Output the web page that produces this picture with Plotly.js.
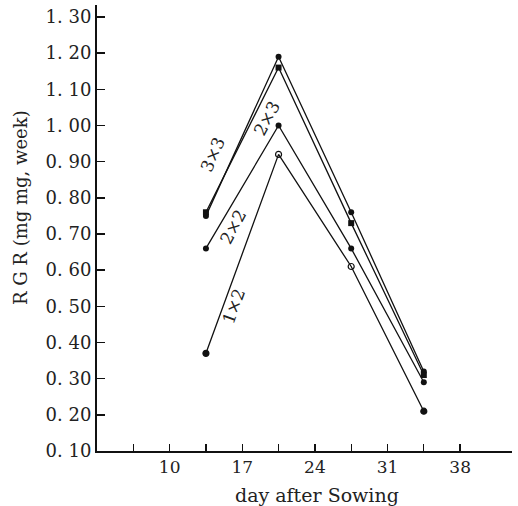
<!DOCTYPE html>
<html>
<head>
<meta charset="utf-8">
<script src="https://cdn.plot.ly/plotly-3.0.1.min.js"></script>
<style>html,body{margin:0;padding:0;background:#fff;}#chart{width:518px;height:506px;}</style>
</head>
<body>
<div id="chart"></div>
<script>
const days = [13.5, 20.5, 27.5, 34.5];
const rgr3x3 = [0.75, 1.19, 0.76, 0.32];
const rgr2x3 = [0.76, 1.16, 0.73, 0.31];
const rgr2x2 = [0.66, 1.00, 0.66, 0.29];
const rgr1x2 = [0.37, 0.92, 0.61, 0.21];
const seriesNames = ["3×3", "2×3", "2×2", "1×2"];
const labelX = [14.2, 19.4, 16.1, 16.2];
const labelY = [0.92, 1.02, 0.72, 0.50];

const yTickVals = [0.10,0.20,0.30,0.40,0.50,0.60,0.70,0.80,0.90,1.00,1.10,1.20,1.30];
const yTickText = ["0. 10","0. 20","0. 30","0. 40","0. 50","0. 60","0. 70","0. 80","0. 90","1. 00","1. 10","1. 20","1. 30"];
const xTickVals = [6.5,10,13.5,17,20.5,24,27.5,31,34.5,38];
const xTickText = ["","10","","17","","24","","31","","38"];
const xTitle = "day after Sowing";
const yTitle = "R G R (mg mg, week)";

const font = "DejaVu Serif, Liberation Serif, serif";
const line = {color:"#111", width:1.3};
const traces = [
  {x:days, y:rgr3x3, name:seriesNames[0], mode:"lines+markers", line:line, marker:{symbol:"circle", size:6, color:"#111"}},
  {x:days, y:rgr2x3, name:seriesNames[1], mode:"lines+markers", line:line, marker:{symbol:"square", size:6, color:"#111"}},
  {x:days, y:rgr2x2, name:seriesNames[2], mode:"lines+markers", line:line, marker:{symbol:"circle", size:6, color:"#111"}},
  {x:days, y:rgr1x2, name:seriesNames[3], mode:"lines+markers", line:line,
   marker:{symbol:["circle","circle-open","circle-open","circle"], size:6, color:"#111", line:{color:"#111", width:1.2}}}
];
const angles = [-66, -62, -62, -70];
const annotations = seriesNames.map((n,i)=>({
  x:labelX[i], y:labelY[i], xref:"x", yref:"y", text:n, showarrow:false,
  textangle:angles[i], font:{family:font, size:17, color:"#222"}
}));

const L=97, R=6, T=5, B=55, W=518, H=506;
const pw=W-L-R, ph=H-T-B;
annotations.push({xref:"paper", yref:"paper", x:(20-L)/pw, y:(H-B-208)/ph, xanchor:"center", yanchor:"middle",
  text:yTitle, showarrow:false, textangle:-90, font:{family:font, size:18, color:"#222"}});
annotations.push({xref:"paper", yref:"paper", x:(317-L)/pw, y:(H-B-495)/ph, xanchor:"center", yanchor:"middle",
  text:xTitle, showarrow:false, font:{family:font, size:19, color:"#222"}});

const layout = {
  width:W, height:H,
  margin:{l:L, r:R, t:T, b:B},
  paper_bgcolor:"#fff", plot_bgcolor:"#fff",
  showlegend:false,
  font:{family:font, color:"#222"},
  xaxis:{
    range:[3,43], tickmode:"array", tickvals:xTickVals, ticktext:xTickText,
    ticks:"inside", ticklen:7, tickwidth:1.3, tickcolor:"#111",
    showline:true, linecolor:"#111", linewidth:2, showgrid:false, zeroline:false,
    tickfont:{family:font, size:17, color:"#222"}
  },
  yaxis:{
    range:[0.10,1.333], tickmode:"array", tickvals:yTickVals, ticktext:yTickText,
    ticks:"inside", ticklen:8, tickwidth:1.5, tickcolor:"#111",
    showline:true, linecolor:"#111", linewidth:2, showgrid:false, zeroline:false,
    tickfont:{family:font, size:18, color:"#222"}
  },
  annotations:annotations
};
Plotly.newPlot("chart", traces, layout, {displayModeBar:false, staticPlot:true});
</script>
</body>
</html>
